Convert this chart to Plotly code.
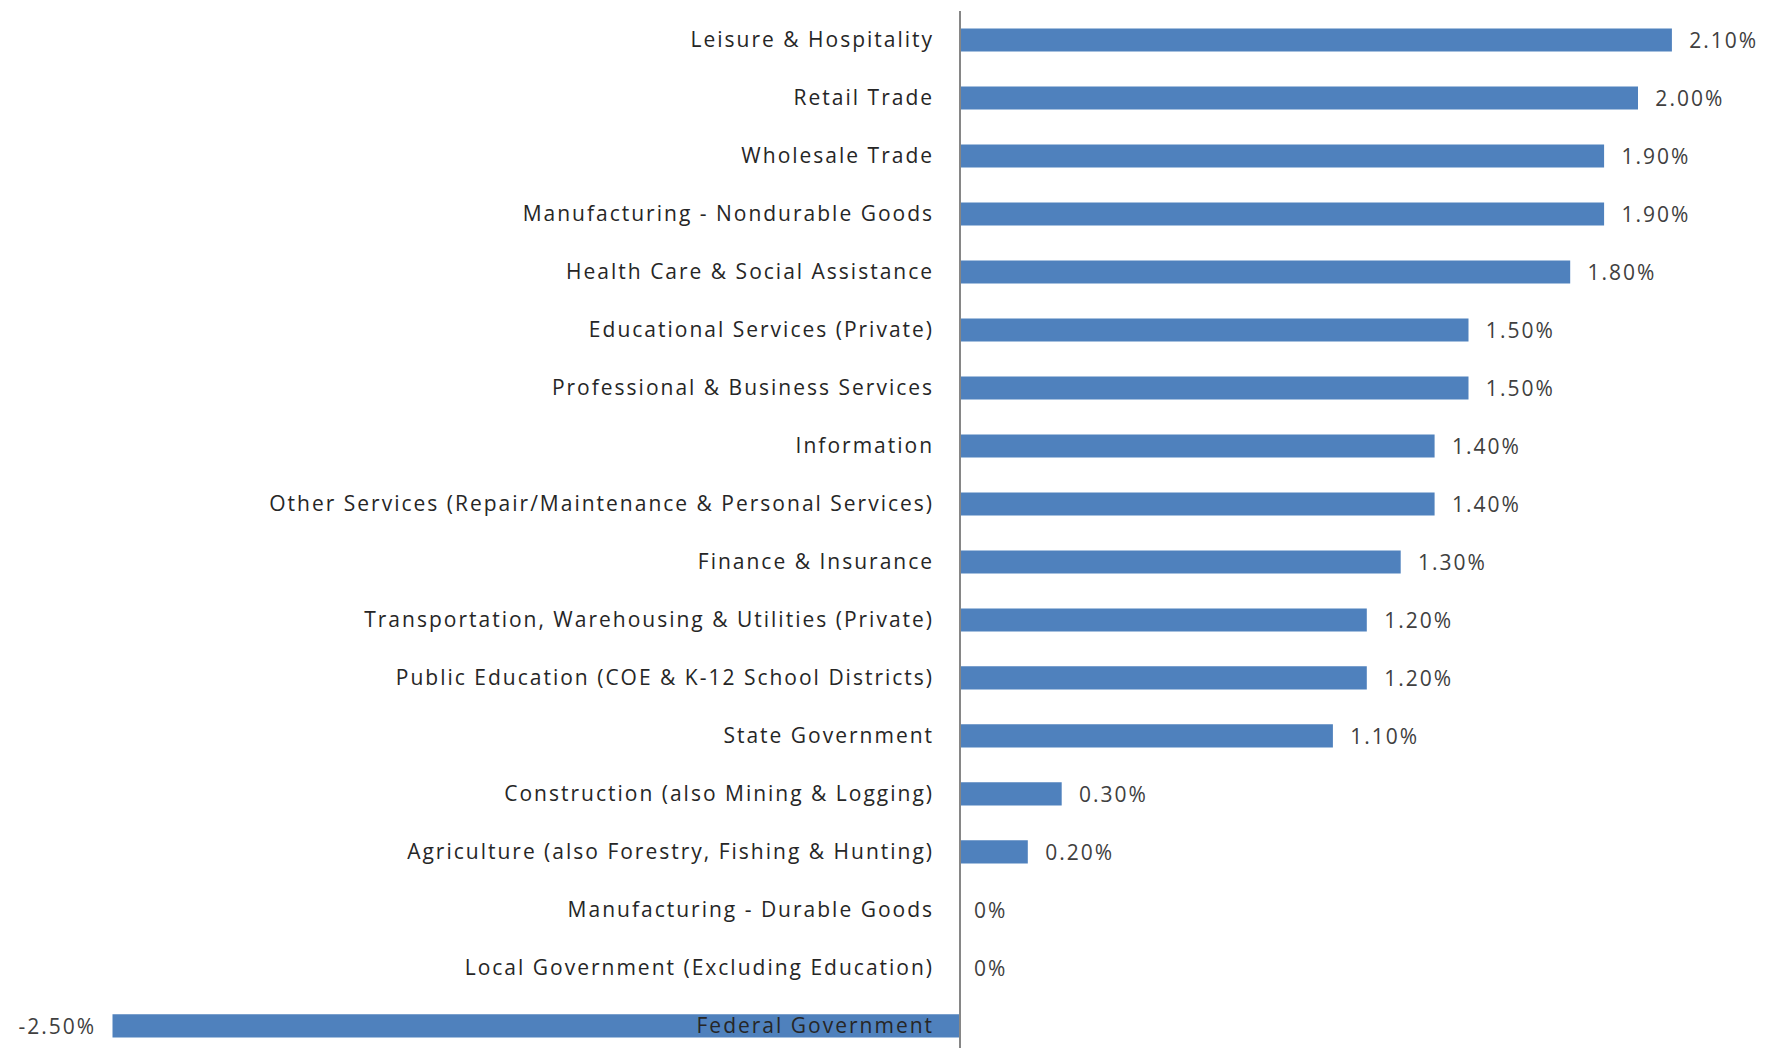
import plotly.graph_objects as go

categories = [
    "Leisure & Hospitality",
    "Retail Trade",
    "Wholesale Trade",
    "Manufacturing - Nondurable Goods",
    "Health Care & Social Assistance",
    "Educational Services (Private)",
    "Professional & Business Services",
    "Information",
    "Other Services (Repair/Maintenance & Personal Services)",
    "Finance & Insurance",
    "Transportation, Warehousing & Utilities (Private)",
    "Public Education (COE & K-12 School Districts)",
    "State Government",
    "Construction (also Mining & Logging)",
    "Agriculture (also Forestry, Fishing & Hunting)",
    "Manufacturing - Durable Goods",
    "Local Government (Excluding Education)",
    "Federal Government",
]
values = [2.10, 2.00, 1.90, 1.90, 1.80, 1.50, 1.50, 1.40, 1.40, 1.30,
          1.20, 1.20, 1.10, 0.30, 0.20, 0.0, 0.0, -2.50]


def fmt(v):
    if v == 0:
        return "  0%"
    if v < 0:
        return f"{v:.2f}%   "
    return f"   {v:.2f}%"


labels = [fmt(v) for v in values]

W, H = 1783, 1048
zero_px = 960.0
px_per_unit = 339.0
x_min = -zero_px / px_per_unit
x_max = (W - zero_px) / px_per_unit

font_family = "Open Sans, Noto Sans, sans-serif"

fig = go.Figure(go.Bar(
    x=values,
    y=categories,
    orientation="h",
    marker=dict(color="#4F81BD", line=dict(width=0)),
    width=0.4,
    text=labels,
    textposition="outside",
    constraintext="none",
    textfont=dict(family=font_family, size=21, color="#404040"),
    cliponaxis=False,
))

fig.update_layout(
    width=W,
    height=H,
    margin=dict(l=0, r=0, t=11, b=0),
    paper_bgcolor="white",
    plot_bgcolor="white",
    showlegend=False,
    xaxis=dict(
        range=[x_min, x_max],
        showgrid=False,
        zeroline=False,
        showticklabels=False,
        showline=False,
        ticks="",
        domain=[0, 1],
    ),
    yaxis=dict(
        type="category",
        categoryorder="array",
        categoryarray=categories,
        range=[17.38, -0.5],
        anchor="free",
        position=zero_px / W,
        showgrid=False,
        zeroline=False,
        showline=True,
        linecolor="#868686",
        linewidth=1.5,
        ticks="",
        ticklabelstandoff=21,
        tickfont=dict(family=font_family, size=21, color="#262626"),
        automargin=False,
    ),
)

post = (
    "document.body.style.margin='0';"
    "document.body.style.overflow='hidden';"
    "var st=document.createElement('style');"
    "st.innerHTML='.ytick text, text.bartext {letter-spacing:2px;}';"
    "document.head.appendChild(st);"
    "Plotly.redraw(document.getElementById('{plot_id}'));"
)

fig.write_html(
    "out.html",
    config={"displayModeBar": False},
    post_script=post,
)
